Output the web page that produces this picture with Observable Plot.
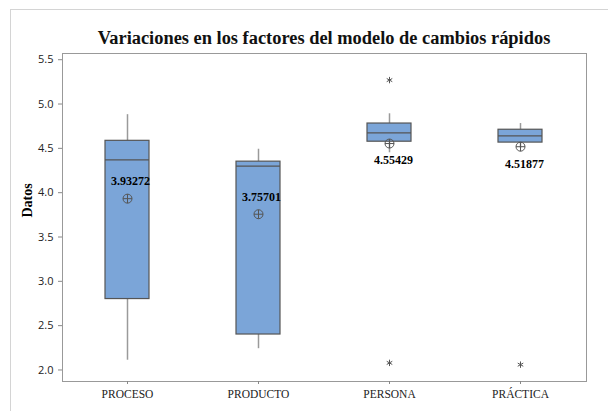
<!DOCTYPE html>
<html><head><meta charset="utf-8">
<script src="https://cdn.jsdelivr.net/npm/d3@7"></script>
<script src="https://cdn.jsdelivr.net/npm/@observablehq/plot@0.6"></script>
<style>
body{margin:0;background:#fff;}
#wrap{position:relative;width:608px;height:411px;overflow:hidden;}
#border{position:absolute;left:10px;top:9px;width:700px;height:500px;border-left:1px solid #d4d4d4;border-top:1px solid #d4d4d4;}
#title{position:absolute;left:62px;width:524px;top:28px;line-height:1;text-align:center;font:bold 18.4px "Liberation Serif",serif;color:#111;white-space:nowrap;}
#chart{position:absolute;left:0;top:0;}
</style></head>
<body><div id="wrap"><div id="border"></div><div id="chart"></div><div id="title">Variaciones en los factores del modelo de cambios rápidos</div></div>
<script>
const categories = ["PROCESO", "PRODUCTO", "PERSONA", "PRÁCTICA"];
const whiskerLow = [2.11, 2.24, 4.45, 4.50];
const q1 = [2.80, 2.40, 4.575, 4.565];
const median = [4.37, 4.30, 4.675, 4.64];
const q3 = [4.585, 4.35, 4.78, 4.71];
const whiskerHigh = [4.88, 4.49, 4.89, 4.78];
const means = [3.93272, 3.75701, 4.55429, 4.51877];
const outlierCategory = ["PERSONA", "PERSONA", "PRÁCTICA"];
const outlierValue = [5.27, 2.08, 2.06];
const yTicks = [2.0, 2.5, 3.0, 3.5, 4.0, 4.5, 5.0, 5.5];

const rows = categories.map((c, i) => ({
  cat: c, lo: whiskerLow[i], q1: q1[i], med: median[i], q3: q3[i], hi: whiskerHigh[i], mean: means[i],
  above: (q3[i] - q1[i]) > 1
}));
const outliers = outlierCategory.map((c, i) => ({cat: c, v: outlierValue[i]}));

const circlePlus = {
  draw(ctx, size) {
    const r = Math.sqrt(size / Math.PI);
    ctx.moveTo(r, 0); ctx.arc(0, 0, r, 0, 2 * Math.PI);
    ctx.moveTo(-r, 0); ctx.lineTo(r, 0);
    ctx.moveTo(0, -r); ctx.lineTo(0, r);
  }
};

const chart = Plot.plot({
  width: 608, height: 411,
  marginLeft: 62, marginRight: 22, marginTop: 53, marginBottom: 30,
  style: {fontFamily: "'Open Sans', sans-serif", fontSize: "11px", background: "transparent", color: "#222"},
  x: {type: "band", domain: categories, paddingInner: 0.664, paddingOuter: 0.332, label: null},
  y: {domain: [1.87, 5.57], label: null},
  marks: [
    Plot.frame({stroke: "#999"}),
    Plot.axisY({ticks: yTicks, tickFormat: d3.format(".1f"), tickSize: 4, tickPadding: 5, stroke: "#888", label: null}),
    Plot.axisX({tickSize: 3, tickPadding: 5, fontFamily: "'Liberation Serif', serif", fontSize: 11.5, stroke: "#888", label: null}),
    Plot.ruleX(rows, {x: "cat", y1: "lo", y2: "q1", stroke: "#9a9a9a", strokeWidth: 1.5}),
    Plot.ruleX(rows, {x: "cat", y1: "q3", y2: "hi", stroke: "#9a9a9a", strokeWidth: 1.5}),
    Plot.barY(rows, {x: "cat", y1: "q1", y2: "q3", fill: "#7BA5D8", stroke: "#555", strokeWidth: 1.2}),
    Plot.tickY(rows, {x: "cat", y: "med", stroke: "#555", strokeWidth: 1.2}),
    Plot.dot(rows, {x: "cat", y: "mean", symbol: circlePlus, r: 4.5, stroke: "#555", strokeWidth: 1, fill: "none"}),
    Plot.text(rows.filter(d => d.above), {x: "cat", y: "mean", text: d => d.mean.toFixed(5), dy: -17, dx: 3, fontFamily: "'Liberation Serif', serif", fontWeight: "bold", fontSize: 12, fill: "#000"}),
    Plot.text(rows.filter(d => !d.above), {x: "cat", y: "mean", text: d => d.mean.toFixed(5), dy: 17, dx: 4, fontFamily: "'Liberation Serif', serif", fontWeight: "bold", fontSize: 12, fill: "#000"}),
    Plot.dot(outliers, {x: "cat", y: "v", symbol: "asterisk", r: 3, stroke: "#555", strokeWidth: 1}),
    Plot.text(["Datos"], {frameAnchor: "left", dx: -35, rotate: -90, fontFamily: "'Liberation Serif', serif", fontWeight: "bold", fontSize: 14, fill: "#000"})
  ]
});
document.getElementById("chart").appendChild(chart);
</script>
</body></html>
